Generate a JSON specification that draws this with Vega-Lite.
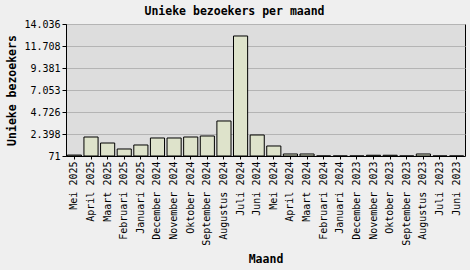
{
  "$schema": "https://vega.github.io/schema/vega-lite/v6.json",
  "width": 399,
  "height": 132,
  "autosize": {"type": "none"},
  "padding": {"left": 66, "top": 24, "right": 5, "bottom": 114},
  "background": "#efefef",
  "title": {
    "text": "Unieke bezoekers per maand",
    "font": "DejaVu Sans Mono",
    "fontSize": 11.5,
    "fontWeight": "bold",
    "color": "#000000",
    "anchor": "middle",
    "dx": -31,
    "dy": 16,
    "baseline": "bottom",
    "offset": 7
  },
  "config": {
    "view": {"fill": "#dddddd", "stroke": "#000000", "strokeWidth": 1},
    "axis": {
      "labelFont": "DejaVu Sans Mono",
      "labelFontSize": 10,
      "labelColor": "#000000",
      "titleFont": "DejaVu Sans Mono",
      "titleFontSize": 11.5,
      "titleFontWeight": "bold",
      "titleColor": "#000000",
      "domainColor": "#000000",
      "tickColor": "#000000"
    }
  },
  "data": {
    "values": [
      {"maand": "Mei 2025", "bezoekers": 170},
      {"maand": "April 2025", "bezoekers": 2081},
      {"maand": "Maart 2025", "bezoekers": 1446},
      {"maand": "Februari 2025", "bezoekers": 812},
      {"maand": "Januari 2025", "bezoekers": 1235},
      {"maand": "December 2024", "bezoekers": 1976},
      {"maand": "November 2024", "bezoekers": 1976},
      {"maand": "Oktober 2024", "bezoekers": 2081},
      {"maand": "September 2024", "bezoekers": 2187},
      {"maand": "Augustus 2024", "bezoekers": 3774},
      {"maand": "Juli 2024", "bezoekers": 12768},
      {"maand": "Juni 2024", "bezoekers": 2293},
      {"maand": "Mei 2024", "bezoekers": 1129},
      {"maand": "April 2024", "bezoekers": 283},
      {"maand": "Maart 2024", "bezoekers": 283},
      {"maand": "Februari 2024", "bezoekers": 71},
      {"maand": "Januari 2024", "bezoekers": 71},
      {"maand": "December 2023", "bezoekers": 71},
      {"maand": "November 2023", "bezoekers": 150},
      {"maand": "Oktober 2023", "bezoekers": 150},
      {"maand": "September 2023", "bezoekers": 71},
      {"maand": "Augustus 2023", "bezoekers": 283},
      {"maand": "Juli 2023", "bezoekers": 71},
      {"maand": "Juni 2023", "bezoekers": 71}
    ]
  },
  "mark": {"type": "bar", "fill": "#dee3cb", "stroke": "#000000", "strokeWidth": 1},
  "encoding": {
    "x": {
      "field": "maand",
      "type": "nominal",
      "sort": null,
      "scale": {"paddingInner": 0.15, "paddingOuter": 0.08},
      "axis": {
        "title": "Maand",
        "labelAngle": 270,
        "labelAlign": "right",
        "labelBaseline": "middle",
        "labelPadding": 2,
        "tickSize": 3,
        "titlePadding": 8
      }
    },
    "y": {
      "field": "bezoekers",
      "type": "quantitative",
      "scale": {"domain": [71, 14036], "nice": false, "zero": false},
      "axis": {
        "title": "Unieke bezoekers",
        "values": [71, 2398, 4726, 7053, 9381, 11708, 14036],
        "labelExpr": "replace(format(datum.value, ','), ',', '.')",
        "grid": true,
        "gridColor": "#b4b4b4",
        "gridOpacity": 1,
        "tickSize": 4,
        "labelPadding": 2,
        "titlePadding": 6
      }
    },
    "y2": {"datum": 71}
  }
}
